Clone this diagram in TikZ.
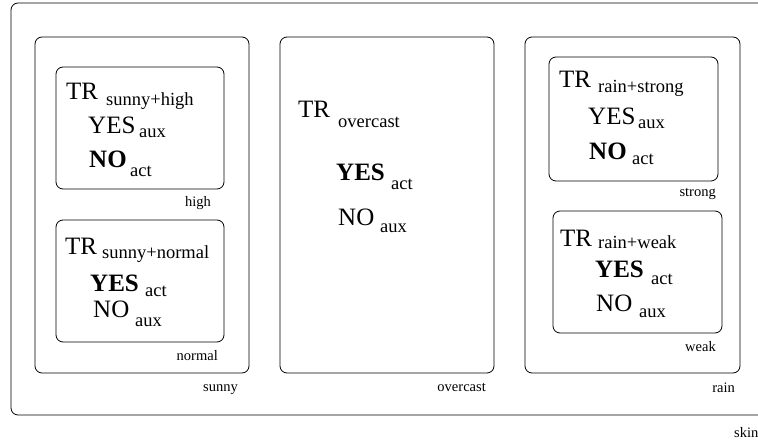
\documentclass[tikz,border=0pt]{standalone}
\usepackage{fontspec}
\setmainfont{Liberation Serif}
\tikzset{region/.style={draw=black, line width=0.8pt, rounded corners=7pt}}
\tikzset{big/.style={anchor=base west, inner sep=0pt, font=\fontsize{25}{27}\selectfont}}
\tikzset{bigbold/.style={big, font=\fontsize{25}{27}\selectfont\bfseries}}
\tikzset{sub/.style={anchor=base west, inner sep=0pt, font=\fontsize{18.5}{20}\selectfont}}
\tikzset{tag/.style={anchor=base east, inner sep=0pt, font=\fontsize{14.5}{16}\selectfont}}

\begin{document}
\begin{tikzpicture}[x=1pt, y=-1pt]
  \useasboundingbox (0,0) rectangle (758,443);
  \clip (0,0) rectangle (758,443);

  % boxes
  \draw[region] (11,3) rectangle (790,415);
  \draw[region] (35,37) rectangle (249,373);
  \draw[region] (56,67) rectangle (224,189);
  \draw[region] (56,220) rectangle (224,342);
  \draw[region] (280,37) rectangle (494,373);
  \draw[region] (525,37) rectangle (740,373);
  \draw[region] (549,57) rectangle (718,181);
  \draw[region] (553,211) rectangle (722,333);

  % sunny + high
  \node[big] (trhigh) at (66,100) {TR};
  \node[sub] (shigh) at (106,106) {sunny+high};
  \node[big] (yeshigh) at (88,134) {YES};
  \node[sub] (auxhigh) at (139,138) {aux};
  \node[bigbold] (nohigh) at (89,168) {NO};
  \node[sub] (acthigh) at (130,177) {act};
  \node[tag] (high) at (211,207) {high};

  % sunny + normal
  \node[big] (trnormal) at (65,255) {TR};
  \node[sub] (snormal) at (102,259) {sunny+normal};
  \node[bigbold] (yesnormal) at (90,292) {YES};
  \node[sub] (actnormal) at (145,297) {act};
  \node[big] (nonormal) at (93,318) {NO};
  \node[sub] (auxnormal) at (135,327) {aux};
  \node[tag] (normal) at (218,361) {normal};
  \node[tag] (sunny) at (238,392) {sunny};

  % overcast
  \node[big] (trover) at (298,118) {TR};
  \node[sub] (sover) at (338,128) {overcast};
  \node[bigbold] (yesover) at (336,181) {YES};
  \node[sub] (actover) at (391,190) {act};
  \node[big] (noover) at (338,226) {NO};
  \node[sub] (auxover) at (380,233) {aux};
  \node[tag] (overcast) at (486,392) {overcast};

  % rain + strong
  \node[big] (trstrong) at (559,88) {TR};
  \node[sub] (sstrong) at (598,93) {rain+strong};
  \node[big] (yesstrong) at (588,125) {YES};
  \node[sub] (auxstrong) at (638,129) {aux};
  \node[bigbold] (nostrong) at (589,160) {NO};
  \node[sub] (actstrong) at (632,165) {act};
  \node[tag] (strong) at (716,197) {strong};

  % rain + weak
  \node[big] (trweak) at (560,247) {TR};
  \node[sub] (sweak) at (598,249) {rain+weak};
  \node[bigbold] (yesweak) at (595,278) {YES};
  \node[sub] (actweak) at (651,285) {act};
  \node[big] (noweak) at (596,312) {NO};
  \node[sub] (auxweak) at (639,318) {aux};
  \node[tag] (weak) at (716,352) {weak};
  \node[tag] (rain) at (735,393) {rain};

  \node[tag, anchor=base west] (skin) at (734,438) {skin};
\end{tikzpicture}
\end{document}
